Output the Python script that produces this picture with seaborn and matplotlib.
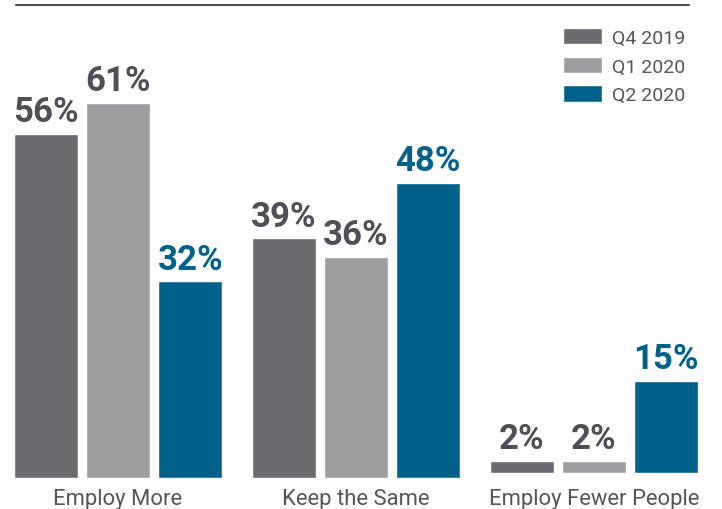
import matplotlib
matplotlib.use("Agg")
import matplotlib.pyplot as plt
from matplotlib.lines import Line2D
import seaborn as sns
import pandas as pd

categories = ["Employ More", "Keep the Same", "Employ Fewer People"]
periods = ["Q4 2019", "Q1 2020", "Q2 2020"]
q4_2019 = [56, 39, 2]
q1_2020 = [61, 36, 2]
q2_2020 = [32, 48, 15]

colors = ["#6b6a6f", "#9d9d9f", "#00628b"]
label_colors = ["#4f4f55", "#4f4f55", "#00628b"]

rows = []
for period, vals in zip(periods, [q4_2019, q1_2020, q2_2020]):
    for cat, v in zip(categories, vals):
        rows.append({"category": cat, "period": period, "value": v})
df = pd.DataFrame(rows)

sns.set_theme(style="white")
plt.rcParams["font.family"] = ["Roboto", "DejaVu Sans"]

fig = plt.figure(figsize=(7.22, 5.10), dpi=100)
ax = fig.add_axes([0, 0.0608, 1, 0.9392])

sns.barplot(data=df, x="category", y="value", hue="period",
            order=categories, hue_order=periods, palette=colors,
            width=0.91, gap=0.12, saturation=1, ax=ax, legend=True)

ax.set_xlim(-0.496, 2.538)
ax.set_ylim(0, 77.9)

# the last group sits on a slightly raised baseline
for container in ax.containers:
    for patch in container.patches:
        if patch.get_x() > 1.5:
            patch.set_y(0.8)

for container, col in zip(ax.containers, label_colors):
    ax.bar_label(container, labels=[f"{int(v)}%" for v in container.datavalues],
                 padding=4, fontsize=25, fontweight="bold", color=col)

ax.set_xlabel("")
ax.set_ylabel("")
ax.set_yticks([])
ax.tick_params(axis="x", length=0, pad=7, labelsize=15.8, labelcolor="#55555a")
for s in ax.spines.values():
    s.set_visible(False)

leg = ax.legend(loc="upper right", bbox_to_anchor=(695 / 722, (510 - 19) / 510),
                bbox_transform=fig.transFigure, frameon=False,
                fontsize=14, handlelength=2.0, handleheight=0.95,
                handletextpad=0.5, labelspacing=0.5, borderpad=0)
for t in leg.get_texts():
    t.set_color("#55555a")

fig.add_artist(Line2D([16 / 722, 689 / 722], [1 - 6 / 510, 1 - 6 / 510],
                      transform=fig.transFigure, color="#4a4a4f", lw=1.5))

fig.savefig("out.png", dpi=100)
